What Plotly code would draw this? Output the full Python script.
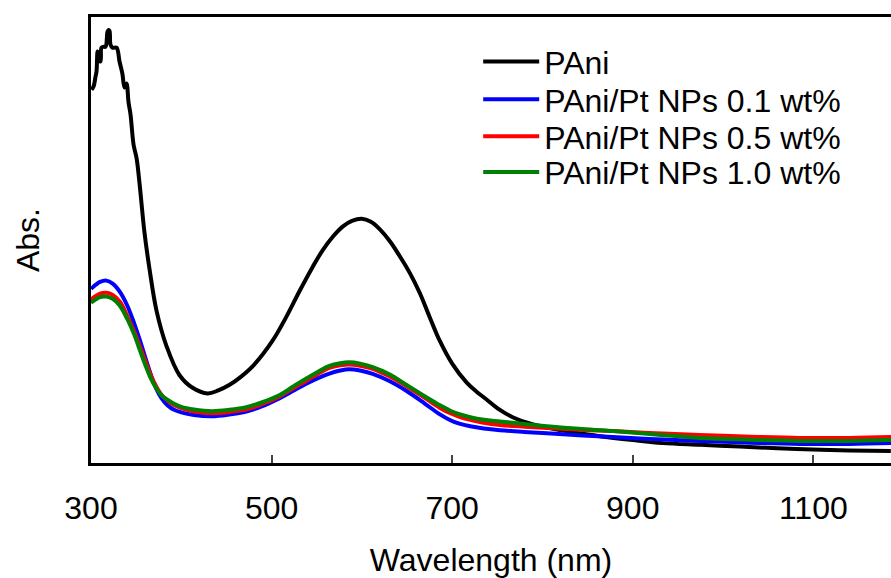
import plotly.graph_objects as go

# ---- data ----
wl_pani = [300.6, 302.8, 305.0, 306.1, 307.2, 308.3, 310.5, 311.6, 313.9, 316.1, 318.3, 319.4,
           320.5, 321.6, 323.8, 328.3, 331.6, 333.8, 334.9, 337.1, 339.3, 341.6, 343.8, 347.1,
           350.5, 353.7, 359.3, 364.8, 372.6, 383.7, 398.1, 412.5, 429.1, 441.0, 453.5, 464.5,
           480.0, 501.1, 516.0, 531.0, 545.0, 556.5, 568.0, 578.7, 589.0, 599.7, 610.0, 619.7,
           631.0, 641.8, 653.0, 664.0, 675.0, 686.2, 700.0, 716.1, 727.0, 738.1, 752.0, 767.0,
           785.0, 808.0, 835.0, 863.4, 900.0, 933.2, 975.0, 1018.5, 1060.0, 1099.4, 1140.0,
           1185.8]
abs_pani = [0.864, 0.871, 0.894, 0.906, 0.952, 0.933, 0.929, 0.961, 0.963, 0.963, 0.998, 1.002,
            1.000, 0.968, 0.961, 0.961, 0.929, 0.910, 0.899, 0.869, 0.878, 0.834, 0.806, 0.737,
            0.705, 0.648, 0.532, 0.449, 0.352, 0.270, 0.203, 0.174, 0.161, 0.168, 0.181, 0.197,
            0.226, 0.283, 0.337, 0.398, 0.452, 0.492, 0.524, 0.547, 0.560, 0.565, 0.558, 0.541,
            0.513, 0.479, 0.440, 0.394, 0.338, 0.283, 0.230, 0.186, 0.165, 0.147, 0.124, 0.106,
            0.092, 0.081, 0.071, 0.062, 0.053, 0.046, 0.042, 0.038, 0.034, 0.031, 0.029, 0.028]

wl_np = [300, 305, 310, 317, 324, 332, 340, 348, 354, 360, 366, 372, 378, 385, 392, 400,
         414, 434, 453, 472, 489, 509, 524, 539, 552, 564, 576, 586, 598, 612, 631, 650,
         670, 686, 698, 708, 720, 735, 753, 780, 805, 840, 878, 925, 974, 1030, 1085, 1140,
         1186]
abs_01 = [0.403, 0.412, 0.419, 0.422, 0.415, 0.396, 0.365, 0.322, 0.285, 0.245, 0.206, 0.173,
          0.150, 0.133, 0.123, 0.117, 0.111, 0.108, 0.112, 0.119, 0.131, 0.150, 0.167, 0.184,
          0.197, 0.207, 0.214, 0.217, 0.214, 0.206, 0.189, 0.166, 0.137, 0.113, 0.099, 0.091,
          0.085, 0.080, 0.076, 0.072, 0.069, 0.064, 0.060, 0.055, 0.051, 0.047, 0.044, 0.044,
          0.046]
abs_05 = [0.378, 0.386, 0.392, 0.394, 0.389, 0.373, 0.341, 0.303, 0.270, 0.237, 0.204, 0.178,
          0.158, 0.144, 0.134, 0.127, 0.119, 0.115, 0.118, 0.124, 0.136, 0.154, 0.173, 0.191,
          0.207, 0.220, 0.226, 0.228, 0.225, 0.218, 0.200, 0.177, 0.150, 0.128, 0.115, 0.107,
          0.100, 0.093, 0.088, 0.084, 0.081, 0.077, 0.074, 0.069, 0.065, 0.061, 0.058, 0.058,
          0.060]
abs_10 = [0.371, 0.378, 0.384, 0.385, 0.380, 0.364, 0.334, 0.297, 0.262, 0.228, 0.197, 0.174,
          0.157, 0.146, 0.137, 0.130, 0.124, 0.120, 0.123, 0.129, 0.140, 0.157, 0.177, 0.196,
          0.212, 0.225, 0.231, 0.233, 0.230, 0.222, 0.205, 0.180, 0.154, 0.134, 0.121, 0.113,
          0.106, 0.100, 0.096, 0.090, 0.085, 0.079, 0.074, 0.066, 0.058, 0.054, 0.051, 0.051,
          0.053]

names = ["PAni", "PAni/Pt NPs 0.1 wt%", "PAni/Pt NPs 0.5 wt%", "PAni/Pt NPs 1.0 wt%"]
colors = ["#000000", "#0000ff", "#ff0000", "#008000"]
x_ticks = [300, 500, 700, 900, 1100]

FONT = "Arial, Liberation Sans, sans-serif"
FS = 32

fig = go.Figure()
series = [(wl_pani, abs_pani), (wl_np, abs_01), (wl_np, abs_05), (wl_np, abs_10)]
legend_ids = ["legend", "legend2", "legend3", "legend4"]
for (xs, ys), name, col, lid in zip(series, names, colors, legend_ids):
    fig.add_trace(go.Scatter(x=xs, y=ys, name=name, mode="lines", legend=lid,
                             line=dict(color=col, width=4, shape="spline", smoothing=1.0)))

# one legend per entry so the row spacing matches the reference
legend_rows_y = [0.900, 0.815, 0.732, 0.652]
leg_common = dict(x=0.484, xanchor="left", yanchor="middle", bgcolor="rgba(0,0,0,0)",
                  font=dict(family=FONT, size=FS, color="black"), itemwidth=56)
layout_legends = {lid: dict(y=yy, **leg_common) for lid, yy in zip(legend_ids, legend_rows_y)}

fig.update_layout(
    width=891, height=578,
    margin=dict(l=91, r=0, t=17, b=113),
    paper_bgcolor="white", plot_bgcolor="white",
    font=dict(family=FONT, size=FS, color="black"),
    showlegend=True,
    **layout_legends,
    xaxis=dict(range=[300, 1186], tickvals=x_ticks, ticks="inside", ticklen=8,
               tickwidth=1.5, tickcolor="#444", showline=True, linewidth=3,
               linecolor="black", mirror=True, showgrid=False, zeroline=False,
               ticklabelstandoff=15, tickfont=dict(size=FS),
               title=dict(text="Wavelength (nm)", standoff=29, font=dict(size=FS))),
    yaxis=dict(range=[0, 1.032], showticklabels=False, ticks="", showline=True,
               linewidth=3, linecolor="black", mirror=False, showgrid=False,
               zeroline=False,
               title=dict(text="Abs.", standoff=39, font=dict(size=FS))),
)

fig.write_html("out.html")
